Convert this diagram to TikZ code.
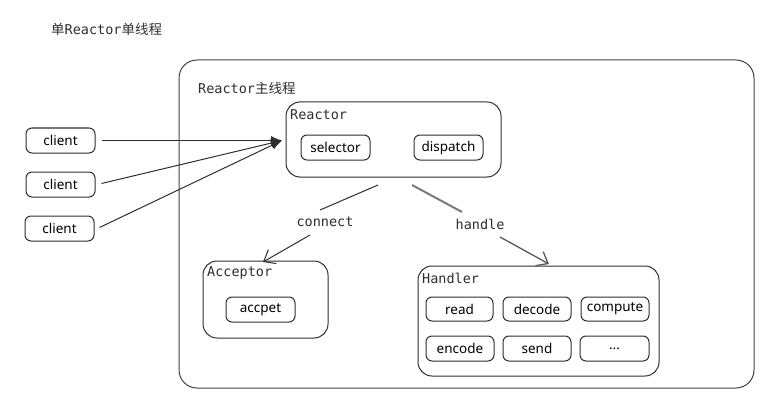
\documentclass[tikz,border=0pt]{standalone}
\usepackage{fontspec}
\setmainfont{Noto Sans}
\setmonofont{DejaVu Sans Mono}
\newfontfamily\cjk{Noto Sans CJK SC}
\usetikzlibrary{arrows.meta}
\definecolor{ink}{HTML}{2E2E2E}
\definecolor{grayline}{HTML}{7A7A7A}
\tikzset{
  x=1pt,y=-1pt,
  small/.style={draw=ink,line width=1pt,rounded corners=6pt,minimum width=69pt,minimum height=25pt,inner sep=0pt,font=\fontsize{13.5}{15}\selectfont},
  group/.style={draw=ink,line width=1pt,rounded corners=14pt},
  mono/.style={font=\fontsize{13.5}{15}\ttfamily\selectfont,text=ink,inner sep=0pt},
  conn/.style={draw=ink,line width=1pt},
}
\begin{document}
\begin{tikzpicture}
\useasboundingbox (0,0) rectangle (781,417);
% title
\node[mono,anchor=west] (title) at (51,29) {{\cjk 单}Reactor{\cjk 单线程}};
% outer box
\draw[group,rounded corners=18pt,draw=ink!90] (179,60) rectangle (754,388);
\node[mono,anchor=west] (main) at (198,88) {Reactor{\cjk 主线程}};
% Reactor
\node[group,minimum width=215pt,minimum height=75pt,inner sep=0pt] (reactor) at (393.5,139.5) {};
\node[mono,anchor=west] (rlbl) at (290,115) {Reactor};
\node[small] (sel) at (335.5,147.5) {selector};
\node[small] (dis) at (448.5,147.5) {dispatch};
% clients
\node[small] (c1) at (60.5,140.5) {client};
\node[small] (c2) at (60.5,184.5) {client};
\node[small] (c3) at (59.5,228.5) {client};
\coordinate (tip) at (282,140.5);
\draw[conn,-{Latex[length=11pt,width=9pt]}] (c1.east) ++(6,0) -- (tip);
\draw[conn,-{Latex[length=11pt,width=9pt]}] (c2.east) ++(6,-1) -- (tip);
\draw[conn,-{Latex[length=11pt,width=9pt]}] (c3.east) ++(5,-1) -- (tip);
% Acceptor
\node[group,minimum width=125pt,minimum height=77pt,inner sep=0pt] (acc) at (265.5,299.5) {};
\node[mono,anchor=west] (albl) at (207,273) {Acceptor};
\node[small] (accpet) at (260.5,309.5) {accpet};
% Handler
\node[group,minimum width=241pt,minimum height=110pt,inner sep=0pt] (hdl) at (538.5,321) {};
\node[mono,anchor=west] (hlbl) at (422,278) {Handler};
\node[small,minimum width=67pt,minimum height=24pt] (read) at (459.5,309) {read};
\node[small,minimum width=68pt,minimum height=24pt] (decode) at (537,309) {decode};
\node[small,minimum width=68pt,minimum height=24pt] (compute) at (615,309) {compute};
\node[small,minimum width=68pt,minimum height=25pt] (encode) at (460,348.5) {encode};
\node[small,minimum width=68pt,minimum height=25pt] (send) at (537,348.5) {send};
\node[small,minimum width=69pt,minimum height=25pt] (etc) at (614.5,348.5) {\textbf{...}};
% connect
\node[mono] (connect) at (325,222) {connect};
\coordinate (cs) at (378,185);
\coordinate (ce) at (320,210);
\coordinate (cs2) at (310,235);
\coordinate (cend) at (263,262);
\draw[conn] (cs) -- (ce);
\draw[conn,-{Straight Barb[length=10pt,width=16pt]}] (cs2) -- (cend);
% handle
\node[mono] (handle) at (480,224) {handle};
\coordinate (hs) at (412,185);
\coordinate (he) at (462,212);
\coordinate (hs2) at (500,237);
\coordinate (hend) at (549,264);
\draw[draw=grayline,line width=2pt] (hs) -- (he);
\draw[draw=ink!80,line width=1.3pt,-{Straight Barb[length=10pt,width=16pt]}] (hs2) -- (hend);
\end{tikzpicture}
\end{document}
